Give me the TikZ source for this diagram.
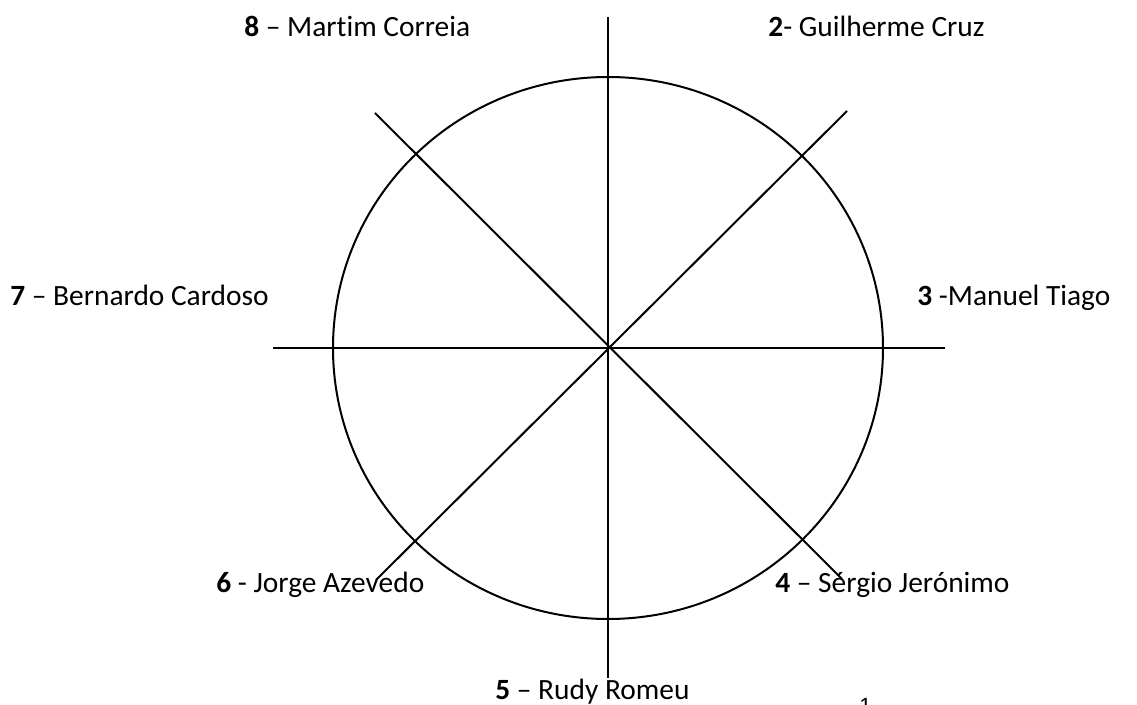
\documentclass[tikz,border=0pt]{standalone}
\usepackage{fontspec}
\setmainfont{Carlito}[Ligatures=NoCommon]
\newfontfamily\pagefont{Liberation Sans}
\usetikzlibrary{positioning}

\begin{document}
\begin{tikzpicture}[x=0.5pt,y=-0.5pt,
  member/.style={anchor=base west,inner sep=0pt,font=\fontsize{14.7}{17}\selectfont},
  spoke/.style={line width=1pt,draw=black}
]
\useasboundingbox (0,0) rectangle (1137,705);
\coordinate (c) at (608,348);
\coordinate (up) at (608,17);
\coordinate (down) at (608,678);
\coordinate (left) at (273,348);
\coordinate (right) at (945,348);
\coordinate (ul) at (375,113);
\coordinate (lr) at (842,579);
\coordinate (ur) at (847,111);
\coordinate (ll) at (377,579);

\draw[spoke] (c) ellipse (275 and 271);
\draw[spoke] (up)--(down);
\draw[spoke] (left)--(right);
\draw[spoke] (ul)--(lr);
\draw[spoke] (ur)--(ll);

\node[member] (m8) at (244,37) {\textbf{8} – Martim Correia};
\node[member] (m2) at (768,37) {\textbf{2}- Guilherme Cruz};
\node[member] (m7) at (10,306) {\textbf{7} – Bernardo Cardoso};
\node[member] (m3) at (917,306) {\textbf{3} -Manuel Tiago};
\node[member] (m6) at (216,593) {\textbf{6} - Jorge Azevedo};
\node[member] (m4) at (775,593) {\textbf{4} – Sérgio Jerónimo};
\node[member] (m5) at (495,700) {\textbf{5} – Rudy Romeu};
\node[anchor=base west,inner sep=0pt,font=\pagefont\fontsize{11}{13}\selectfont] (pg) at (859,714) {1};
\end{tikzpicture}
\end{document}
